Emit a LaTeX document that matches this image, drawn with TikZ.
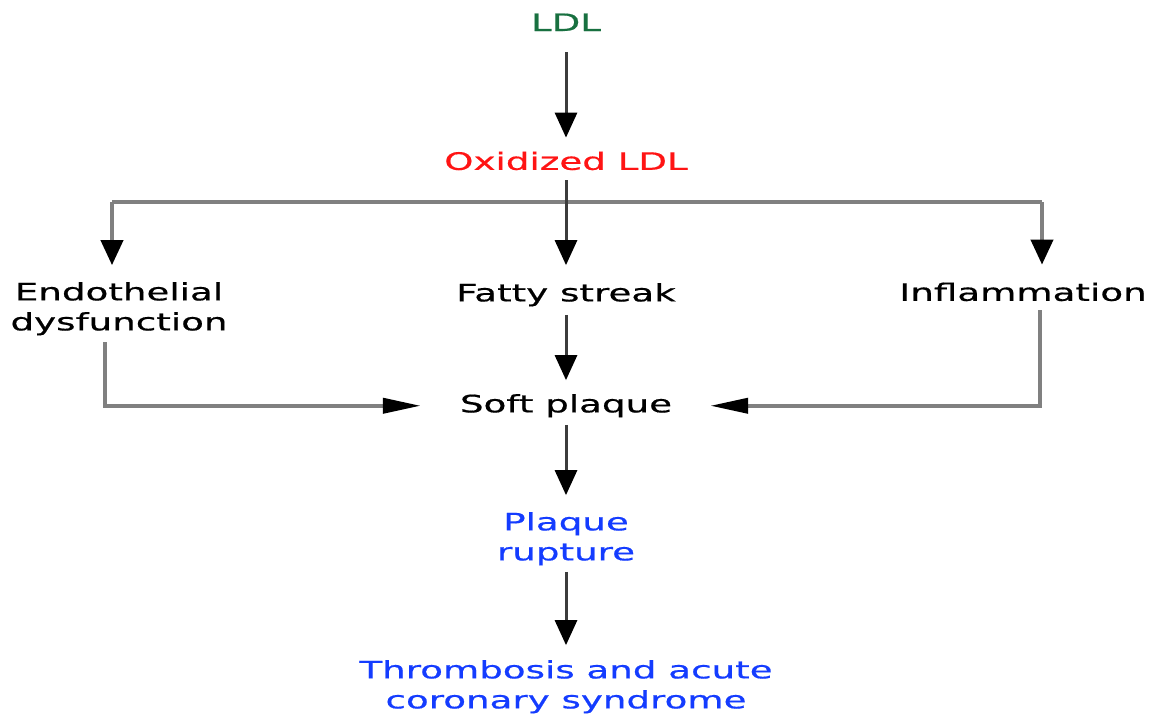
\documentclass[tikz,border=0pt]{standalone}
\usepackage{fontspec}
\setmainfont[FakeStretch=1.55,FakeBold=0.6]{DejaVu Sans}
\usetikzlibrary{arrows.meta}
\definecolor{ldlgreen}{RGB}{24,112,64}
\definecolor{oxred}{RGB}{255,20,20}
\definecolor{rupblue}{RGB}{20,60,255}
\definecolor{darkline}{RGB}{60,60,60}
\definecolor{grayline}{RGB}{128,128,128}
\begin{document}
\begin{tikzpicture}[x=1pt,y=-1pt,
  lbl/.style={font=\fontsize{24}{30}\selectfont, inner sep=0pt, align=center},
  varrow/.style={draw=darkline, line width=3pt, -{Triangle[width=22pt,length=25pt,color=black]}},
  garrow/.style={draw=grayline, line width=4pt, -{Triangle[width=22pt,length=25pt,color=black]}},
  harrow/.style={draw=grayline, line width=4pt, -{Triangle[width=15pt,length=38pt,color=black]}},
  gline/.style={draw=grayline, line width=4pt}]
\useasboundingbox (0,0) rectangle (1157,713);
\node[lbl, text=ldlgreen] (ldl) at (566,22.25) {LDL};
\node[lbl, text=oxred] (ox) at (566,160.9) {Oxidized LDL};
\node[lbl] (endo) at (119,308.75) {Endothelial\\dysfunction};
\node[lbl] (fatty) at (566,294.75) {Fatty streak};
\node[lbl] (infl) at (1023,291.9) {Inflammation};
\node[lbl] (soft) at (566,405.75) {Soft plaque};
\node[lbl, text=rupblue] (rupt) at (566,538.75) {Plaque\\rupture};
\node[lbl, text=rupblue] (thromb) at (566,686.75) {Thrombosis and acute\\coronary syndrome};
\coordinate (bl) at (112,202);
\coordinate (br) at (1042,202);
\coordinate (lstart) at (105,342);
\coordinate (rstart) at (1040,310);
\draw[gline] (bl) -- (br);
\draw[varrow, shorten <=21pt, shorten >=13.8pt] (ldl.south) -- (ox.north);
\draw[varrow, shorten <=10pt, shorten >=17.8pt] (ox.south) -- (fatty.north);
\draw[garrow, shorten >=16.8pt] (bl) -- (bl |- endo.north);
\draw[garrow, shorten >=17.8pt] (br) -- (br |- infl.north);
\draw[varrow, shorten <=8.3pt, shorten >=13.8pt] (fatty.south) -- (soft.north);
\draw[varrow, shorten <=7.3pt, shorten >=16.8pt] (soft.south) -- (rupt.north);
\draw[varrow, shorten <=6.3pt, shorten >=14.8pt] (rupt.south) -- (thromb.north);
\draw[harrow, shorten >=39pt] (lstart) |- (soft.west);
\draw[harrow, shorten >=38pt] (rstart) |- (soft.east);
\end{tikzpicture}
\end{document}
